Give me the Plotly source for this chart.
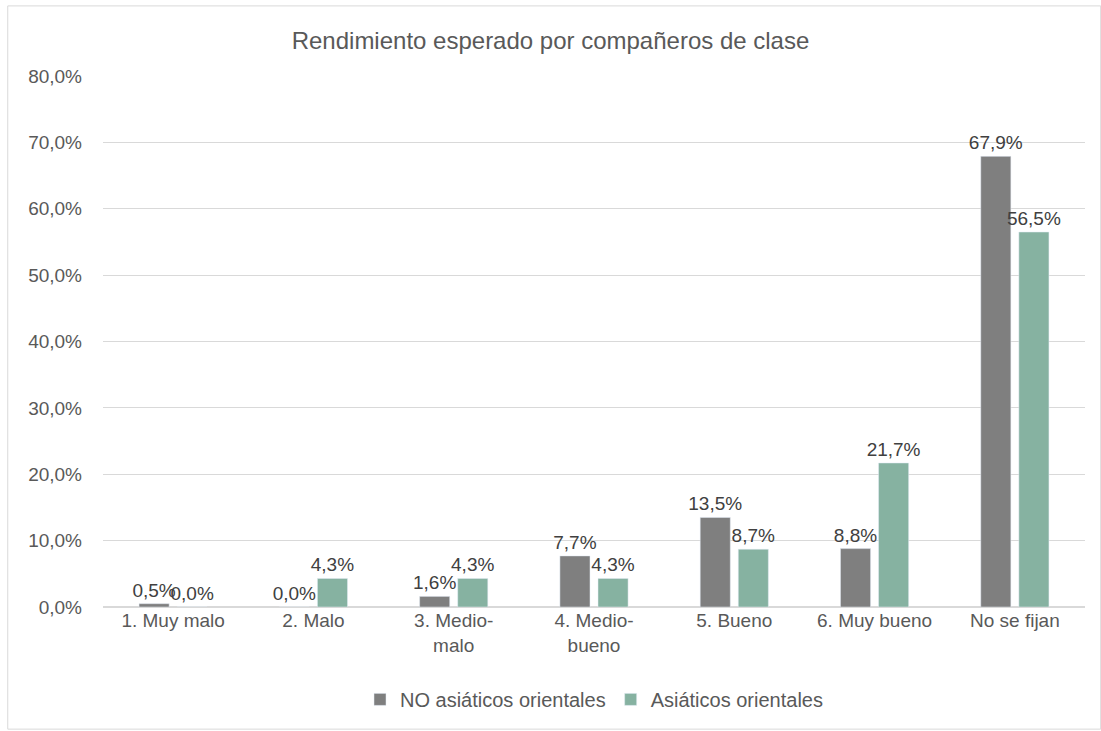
import plotly.graph_objects as go

categorias = ['1. Muy malo', '2. Malo', '3. Medio-<br>malo', '4. Medio-<br>bueno',
              '5. Bueno', '6. Muy bueno', 'No se fijan']
no_asiaticos = [0.005, 0.0, 0.016, 0.077, 0.135, 0.088, 0.679]
asiaticos = [0.0, 0.043, 0.043, 0.043, 0.087, 0.217, 0.565]

gris = '#7f7f7f'
verde = '#86b2a1'
fuente = 'Liberation Sans, Arial, sans-serif'

fig = go.Figure()
fig.add_trace(go.Bar(x=categorias, y=no_asiaticos, name='NO asiáticos orientales',
                     marker=dict(color=gris), texttemplate='%{y:.1%}',
                     textposition='outside', constraintext='none', cliponaxis=False,
                     textfont=dict(size=19, color='#404040')))
fig.add_trace(go.Bar(x=categorias, y=asiaticos, name='Asiáticos orientales',
                     marker=dict(color=verde), texttemplate='%{y:.1%}',
                     textposition='outside', constraintext='none', cliponaxis=False,
                     textfont=dict(size=19, color='#404040')))

fig.update_layout(
    width=1101, height=731,
    separators=',.',
    font=dict(family=fuente, size=19, color='#595959'),
    plot_bgcolor='white', paper_bgcolor='white',
    margin=dict(l=103, r=16, t=76, b=120),
    barmode='group', bargap=0.457, bargroupgap=0.21,
    title=dict(text='Rendimiento esperado por compañeros de clase', x=0.5, xanchor='center',
               y=0.945, yanchor='middle', font=dict(size=24, color='#595959')),
    legend=dict(orientation='h', x=0.5, xanchor='center', y=-0.174, yanchor='middle',
                font=dict(size=20, color='#595959'), itemwidth=30),
)
fig.update_yaxes(range=[0, 0.8001], tickvals=[0, 0.1, 0.2, 0.3, 0.4, 0.5, 0.6, 0.7, 0.8],
                 tickformat='.1%', showgrid=True,
                 gridcolor='#d9d9d9', zeroline=True, zerolinecolor='#d9d9d9',
                 ticks='', ticklabelstandoff=20)
fig.update_xaxes(showgrid=False, ticks='', showline=False)
fig.add_shape(type='rect', xref='paper', yref='paper', x0=-0.097, x1=1.016, y0=-0.23, y1=1.132,
              line=dict(color='#d9d9d9', width=1))
fig.write_html('out.html', config={'displayModeBar': False},
               post_script="document.body.style.margin='0';")
